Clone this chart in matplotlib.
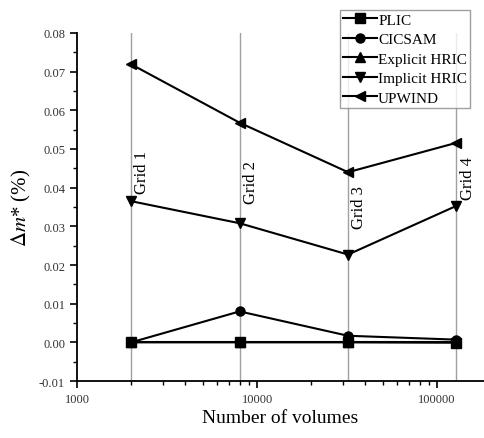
import numpy as np
import matplotlib.pyplot as plt
from matplotlib.ticker import FixedLocator, FormatStrFormatter, LogLocator, NullFormatter

plt.rcParams['font.family'] = ['Liberation Serif', 'DejaVu Serif']
plt.rcParams['mathtext.fontset'] = 'stix'

volumes = [2000, 8000, 32000, 128000]
grid_names = ["Grid 1", "Grid 2", "Grid 3", "Grid 4"]
grid_label_y = [0.0443, 0.0415, 0.0351, 0.0425]

plic = [0.0, 0.0, 0.0, -0.0001]
cicsam = [0.0, 0.0080, 0.0017, 0.0007]
explicit_hric = [0.0, 0.0, 0.0, 0.0]
implicit_hric = [0.0365, 0.0308, 0.0227, 0.0353]
upwind = [0.0719, 0.0568, 0.0440, 0.0516]

series = [("PLIC", plic, "s"), ("CICSAM", cicsam, "o"),
          ("Explicit HRIC", explicit_hric, "^"),
          ("Implicit HRIC", implicit_hric, "v"),
          ("UPWIND", upwind, "<")]

fig = plt.figure(figsize=(4.84, 4.39), dpi=100)
ax = fig.add_axes([0.159, 0.1298, 0.841, 0.7928])

for v, name, gy in zip(volumes, grid_names, grid_label_y):
    ax.axvline(v, color="#a0a0a0", lw=1.0, zorder=1)
    ax.annotate(name, (v, gy), xytext=(8, 0), textcoords="offset points",
                rotation=90, ha="center", va="center", fontsize=12)

for name, vals, m in series:
    ax.plot(volumes, vals, color="black", lw=1.5, marker=m, ms=6.5,
            label=name, zorder=3)

ax.set_xscale("log")
ax.set_xlim(1000, 182000)
ax.set_ylim(-0.01, 0.08)
ax.xaxis.set_major_locator(FixedLocator([1000, 10000, 100000]))
ax.xaxis.set_major_formatter(FormatStrFormatter("%d"))
ax.xaxis.set_minor_locator(LogLocator(base=10, subs=np.arange(2, 10)))
ax.xaxis.set_minor_formatter(NullFormatter())
ax.yaxis.set_major_locator(FixedLocator(np.arange(-0.01, 0.081, 0.01)))
ax.yaxis.set_minor_locator(FixedLocator(np.arange(-0.005, 0.08, 0.01)))
ax.yaxis.set_major_formatter(FormatStrFormatter("%.2f"))

ax.spines["top"].set_visible(False)
ax.spines["right"].set_visible(False)
ax.spines["left"].set_linewidth(1.3)
ax.spines["bottom"].set_linewidth(1.3)
ax.tick_params(which="major", direction="out", length=5, width=1.2,
               labelsize=9, labelcolor="#333333")
ax.tick_params(which="minor", direction="out", length=3, width=1.0)

ax.set_xlabel("Number of volumes", fontsize=14, labelpad=3)
ax.set_ylabel(r"$\Delta m$* (%)", fontsize=15, labelpad=4)

leg = fig.legend(loc="upper right", bbox_to_anchor=(0.971, 0.975),
                 borderaxespad=0, fontsize=11, frameon=True, fancybox=False,
                 handlelength=2.2, handletextpad=0.1, labelspacing=0.38,
                 borderpad=0.2)
leg.get_frame().set_edgecolor("#888888")
leg.get_frame().set_linewidth(1.0)

fig.savefig("out.png", dpi=100)
